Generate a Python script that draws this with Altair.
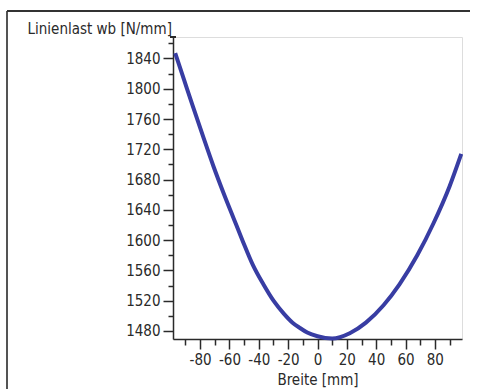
import altair as alt
import pandas as pd

# data
breite = [-97, -91, -85, -78, -71, -64, -57, -51, -44, -37, -30, -23, -17, -12, -7, 0, 10,
          22, 33, 45, 56, 68, 79, 90, 98]
last = [1847, 1812, 1777, 1737, 1698, 1662, 1628, 1599, 1567, 1542, 1520, 1503, 1491, 1484, 1478, 1473, 1470,
        1477, 1491, 1514, 1542, 1580, 1622, 1671, 1714]

y_ticks = list(range(1480, 1861, 20))
x_ticks = list(range(-90, 91, 10))

df = pd.DataFrame({"Breite": breite, "Last": last})

W, H = 289, 302
PL, PT, PR, PB = 173, 37, 8, 50
FONT = "DejaVu Sans Condensed"
C = "#2a2a2a"

xscale = alt.Scale(domain=[-98.5, 98.5], nice=False, zero=False)
yscale = alt.Scale(domain=[1469.4, 1868.4], nice=False, zero=False)

line = alt.Chart(df).mark_line(color="#383da3", strokeWidth=4, interpolate="monotone").encode(
    x=alt.X("Breite:Q", scale=xscale,
            axis=alt.Axis(values=x_ticks,
                          tickSize={"condition": {"test": "datum.value % 20 === 0", "value": 10}, "value": 6},
                          tickWidth=1.5, domainWidth=1.5,
                          domainColor=C, tickColor=C, labelColor=C, labelFont=FONT,
                          labelFontSize=15, labelPadding=3, grid=False, labelOverlap=False,
                          labelExpr="datum.value % 20 === 0 ? '' + datum.value : ''",
                          title="Breite [mm]", titleFont=FONT, titleFontSize=15,
                          titleFontWeight="normal", titleColor=C, titleY=40,
                          titleBaseline="middle")),
    y=alt.Y("Last:Q", scale=yscale,
            axis=alt.Axis(values=y_ticks,
                          tickSize={"condition": {"test": "datum.value % 40 === 0 && datum.value <= 1840", "value": 10}, "value": 5},
                          tickWidth=1.5, domainWidth=1.5,
                          domainColor=C, tickColor=C, labelColor=C, labelFont=FONT,
                          labelFontSize=15, labelPadding=3, grid=False, labelOverlap=False,
                          labelExpr="datum.value % 40 === 0 && datum.value <= 1840 ? '' + datum.value : ''",
                          title="Linienlast wb [N/mm]", titleFont=FONT, titleFontSize=15,
                          titleFontWeight="normal", titleColor=C, titleAngle=0,
                          titleAlign="left", titleBaseline="middle", titleX=-146, titleY=-9)),
)

frame_v = alt.Chart(df).mark_rule(color="#555555", strokeWidth=1.5).encode(
    x=alt.value(-166), y=alt.value(-26), y2=alt.value(H + PB))
frame_h = alt.Chart(df).mark_rule(color="#333333", strokeWidth=1.5).encode(
    x=alt.value(-166), x2=alt.value(W + PR), y=alt.value(-26))
cap = alt.Chart(df).mark_rule(color=C, strokeWidth=1.5).encode(
    x=alt.value(-3), x2=alt.value(3), y=alt.value(0))

chart = alt.layer(line, frame_v, frame_h, cap).properties(
    width=W, height=H, autosize=alt.AutoSizeParams(type="none"),
    padding={"left": PL, "top": PT, "right": PR, "bottom": PB},
).configure_view(stroke="transparent", fill="transparent").configure(background="white")

chart.save("out.html", embed_options={"renderer": "svg", "actions": False})
